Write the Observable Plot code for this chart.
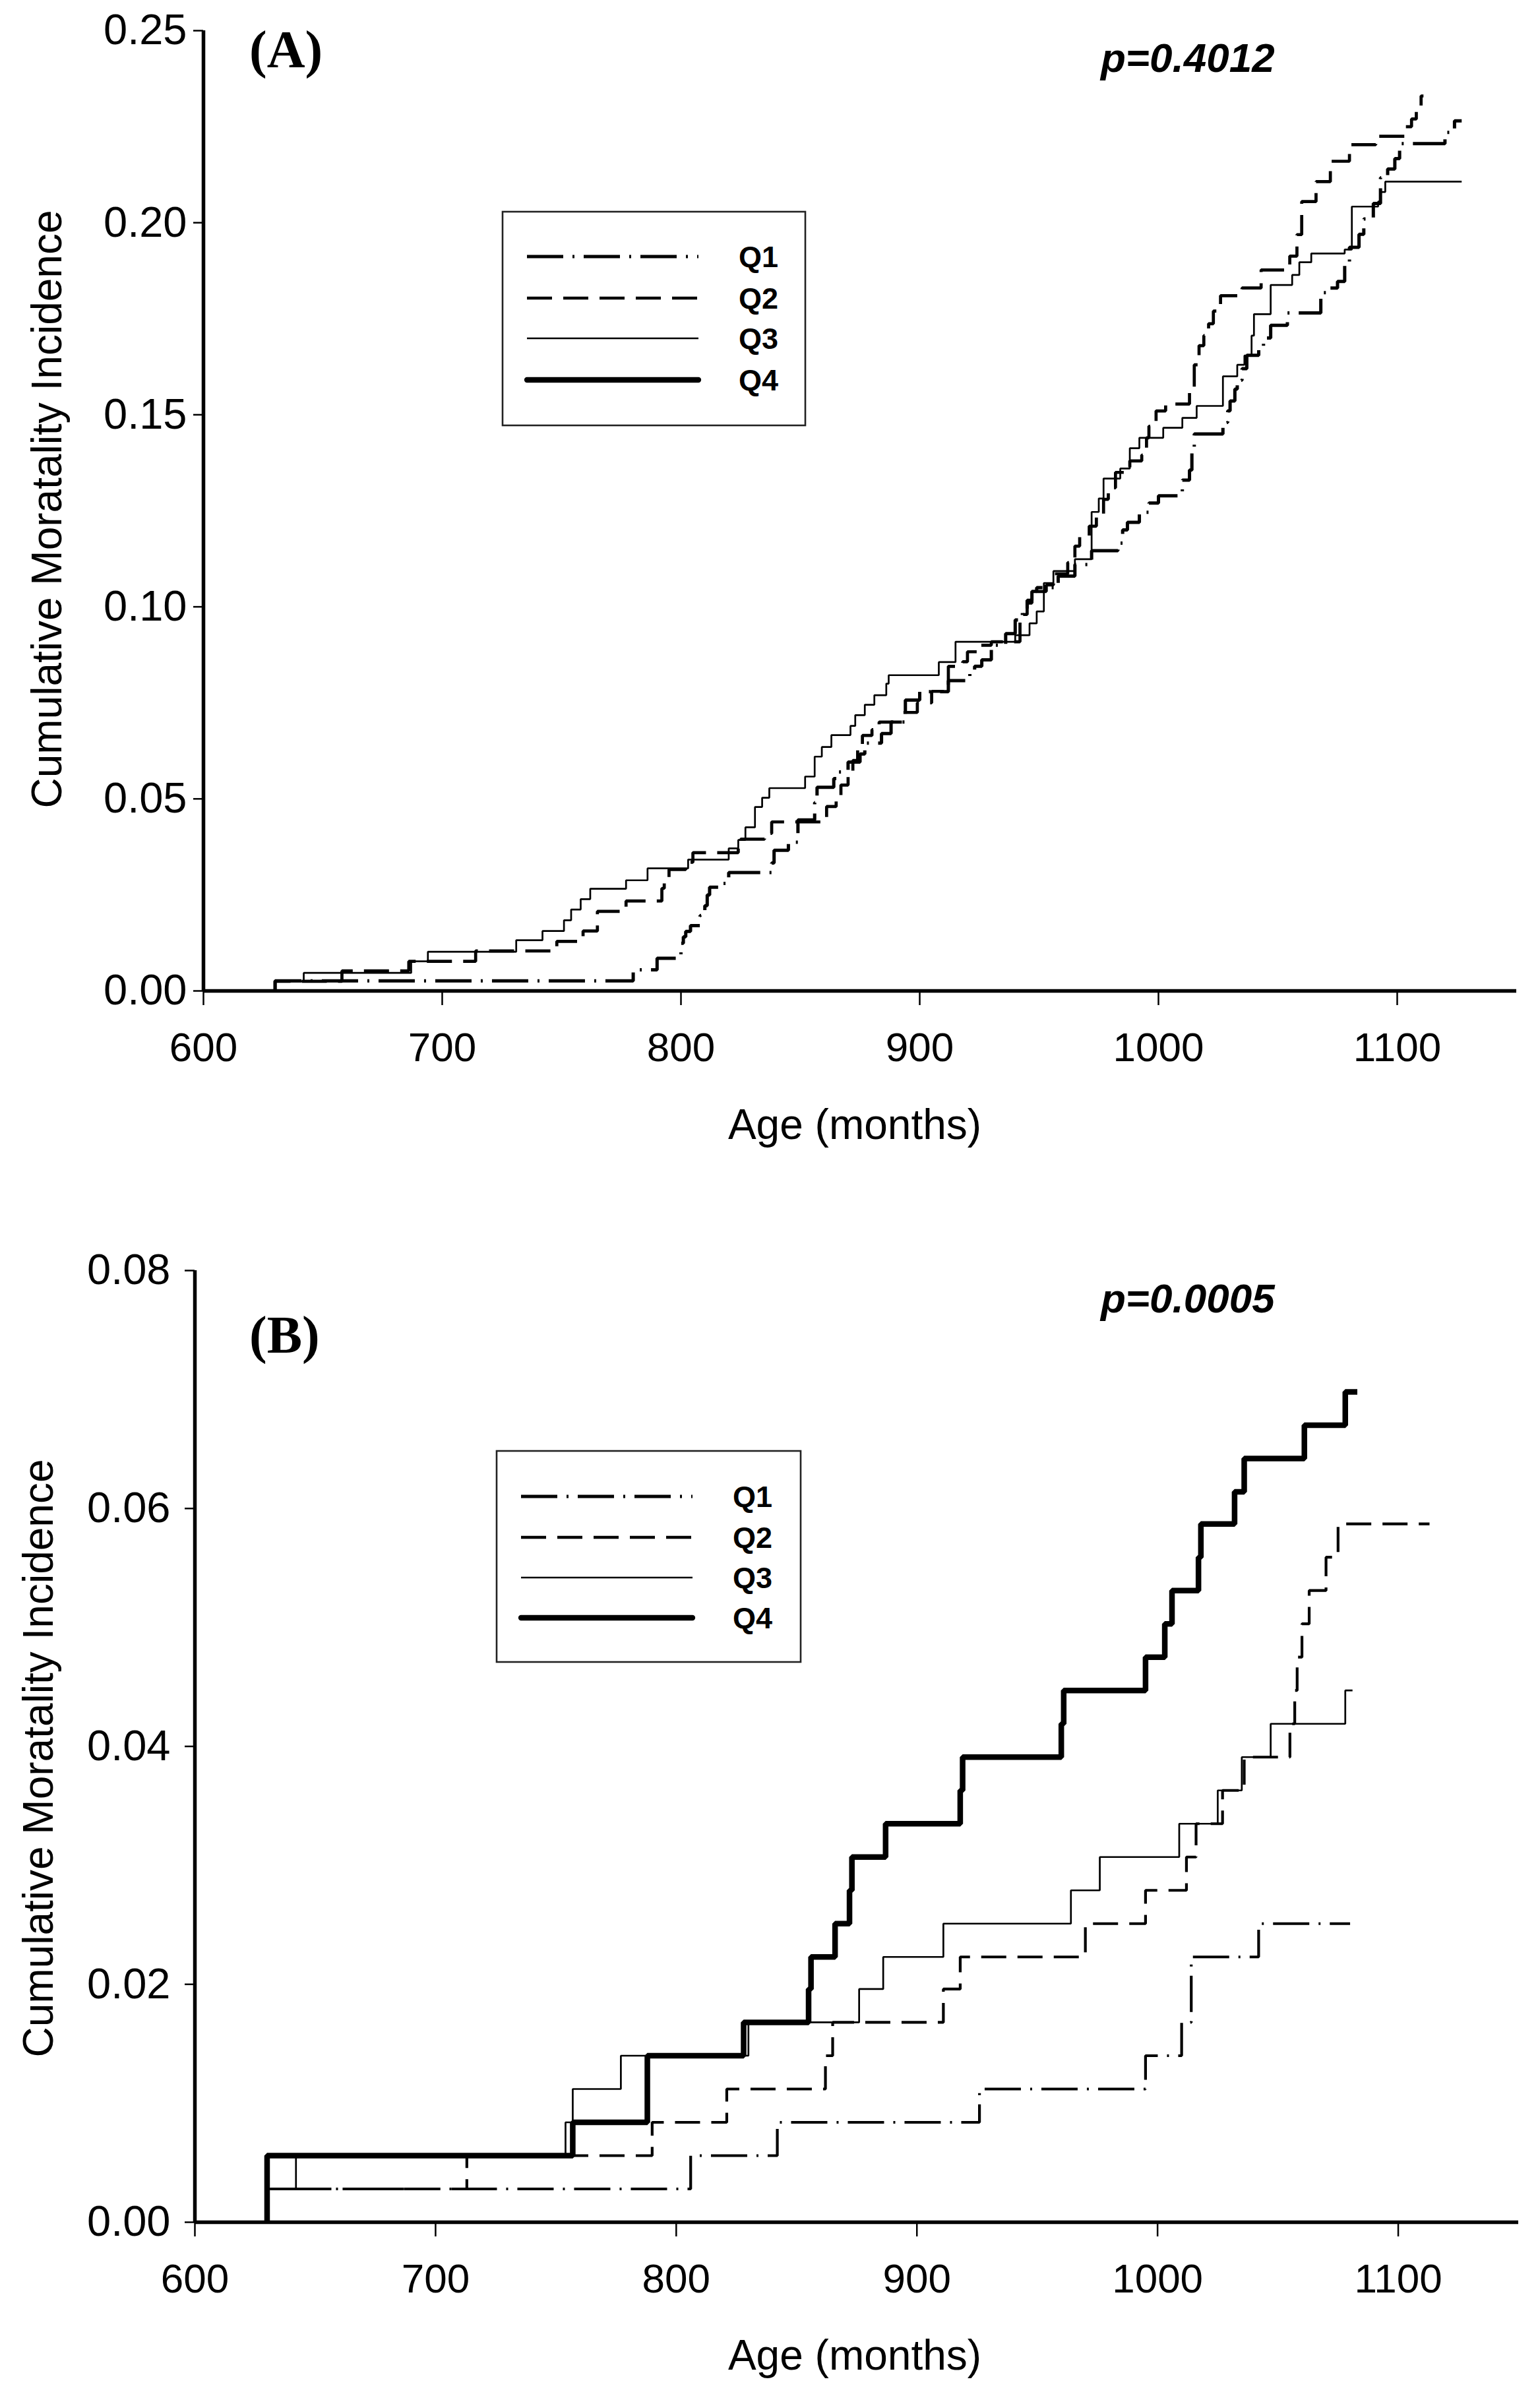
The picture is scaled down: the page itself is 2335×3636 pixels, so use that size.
<!DOCTYPE html>
<html>
<head>
<meta charset="utf-8">
<script src="https://cdn.jsdelivr.net/npm/d3@7"></script>
<script src="https://cdn.jsdelivr.net/npm/@observablehq/plot@0.6"></script>
<style>
html, body { margin: 0; padding: 0; background: #fff; }
#chart { width: 2335px; }
#chart svg { display: block; }
</style>
</head>
<body>
<div id="chart"></div>
<script>
// ---------- data ----------
const xTicks = [600, 700, 800, 900, 1000, 1100];
const aYTicks = [0, 0.05, 0.10, 0.15, 0.20, 0.25];
const bYTicks = [0, 0.02, 0.04, 0.06, 0.08];
const seriesNames = ["Q1", "Q2", "Q3", "Q4"];
const panelLabels = ["(A)", "(B)"];
const pValues = ["p=0.4012", "p=0.0005"];
const xTitle = "Age (months)";
const yTitle = "Cumulative Moratality Incidence";

// Panel A: [age in months, cumulative incidence]
const aQ1 = [[630,0],[630,0.0026],[780,0.0055],[790,0.0085],[800,0.0124],[801,0.0141],[802,0.0155],[804,0.017],[808,0.0196],[810,0.0222],[811,0.025],[812,0.027],[816,0.028],[820,0.0308],[838,0.0333],[839,0.0366],[845,0.0387],[849,0.0445],[856,0.049],[857,0.053],[864,0.0553],[866,0.057],[870,0.0596],[875,0.0617],[877,0.0645],[884,0.067],[888,0.07],[894,0.0757],[900,0.0779],[912,0.0808],[921,0.083],[923,0.0845],[926,0.0862],[930,0.09],[936,0.093],[940,0.0966],[943,0.099],[945,0.1017],[947,0.104],[949,0.105],[958,0.108],[965,0.111],[972,0.1146],[983,0.1166],[985,0.12],[987,0.122],[992,0.1246],[996,0.127],[1000,0.1289],[1008,0.130],[1010,0.133],[1013,0.1356],[1014,0.1407],[1015,0.145],[1027,0.148],[1029,0.151],[1030,0.1536],[1032,0.1567],[1033,0.159],[1035,0.162],[1037,0.1655],[1042,0.1676],[1044,0.170],[1047,0.1733],[1054,0.1765],[1068,0.1818],[1072,0.183],[1075,0.1847],[1078,0.1897],[1080,0.1936],[1084,0.197],[1086,0.201],[1090,0.205],[1093,0.2117],[1096,0.214],[1099,0.2167],[1101,0.2206],[1120,0.2235],[1124,0.2265],[1127,0.2265]];
const aQ2 = [[630,0],[630,0.0025],[658,0.0052],[686,0.0077],[714,0.0104],[748,0.0129],[759,0.0156],[765,0.0207],[777,0.0234],[792,0.0267],[793,0.0284],[795,0.0316],[802,0.0335],[805,0.036],[824,0.0387],[825,0.0395],[835,0.041],[838,0.044],[861,0.048],[865,0.050],[867,0.0536],[870,0.057],[872,0.06],[874,0.063],[876,0.0665],[880,0.068],[883,0.07],[893,0.0725],[899,0.075],[905,0.078],[912,0.0845],[918,0.0857],[920,0.0883],[925,0.09],[930,0.0909],[942,0.098],[945,0.101],[947,0.104],[953,0.1057],[956,0.1086],[962,0.1115],[965,0.1158],[967,0.1184],[971,0.121],[974,0.124],[977,0.128],[979,0.131],[982,0.135],[988,0.138],[993,0.1395],[995,0.144],[996,0.147],[999,0.151],[1003,0.1528],[1013,0.157],[1015,0.163],[1017,0.168],[1019,0.1706],[1021,0.1737],[1023,0.177],[1026,0.181],[1035,0.183],[1043,0.1877],[1055,0.1913],[1058,0.1969],[1060,0.2055],[1066,0.2107],[1072,0.216],[1080,0.2203],[1091,0.2225],[1103,0.225],[1106,0.227],[1108,0.229],[1110,0.233],[1111,0.233]];
const aQ3 = [[630,0],[630,0.0025],[642,0.0047],[687,0.0077],[694,0.0102],[731,0.0132],[742,0.0156],[751,0.0184],[754,0.0212],[758,0.0239],[762,0.0266],[777,0.0288],[786,0.0319],[803,0.0342],[820,0.0371],[824,0.0393],[827,0.0426],[831,0.0479],[834,0.0503],[837,0.0528],[852,0.0558],[856,0.061],[859,0.0635],[863,0.0666],[871,0.069],[873,0.0718],[877,0.0745],[881,0.077],[886,0.080],[887,0.0822],[908,0.0856],[915,0.0909],[940,0.0926],[946,0.0957],[949,0.0988],[952,0.1062],[956,0.1093],[965,0.1124],[972,0.1247],[975,0.1282],[977,0.1334],[984,0.136],[988,0.1413],[992,0.144],[1002,0.1466],[1010,0.1492],[1016,0.1523],[1027,0.160],[1033,0.163],[1036,0.1654],[1039,0.1706],[1040,0.1762],[1047,0.1838],[1056,0.1864],[1059,0.1897],[1064,0.192],[1078,0.193],[1081,0.2042],[1092,0.2055],[1093,0.208],[1095,0.2107],[1127,0.2107]];

// Panel B
const bQ1 = [[630,0],[630,0.0028],[806,0.0056],[842,0.0084],[926,0.0112],[995,0.014],[1010,0.0168],[1014,0.0223],[1042,0.0251],[1080,0.0251]];
const bQ2 = [[630,0],[630,0.0028],[713,0.0056],[790,0.0084],[821,0.0112],[862,0.014],[865,0.0168],[911,0.0196],[918,0.0223],[970,0.0251],[995,0.0279],[1012,0.0307],[1016,0.0335],[1027,0.0363],[1036,0.0391],[1055,0.0419],[1057,0.0447],[1058,0.0475],[1060,0.0503],[1063,0.0531],[1070,0.0559],[1075,0.0587],[1113,0.0587]];
const bQ3 = [[630,0],[630,0.0028],[642,0.0056],[754,0.0084],[757,0.0112],[777,0.014],[830,0.0168],[876,0.0196],[886,0.0223],[911,0.0251],[964,0.0279],[976,0.0307],[1009,0.0335],[1025,0.0363],[1035,0.0391],[1047,0.0419],[1078,0.0447],[1081,0.0447]];
const bQ4 = [[630,0],[630,0.0056],[757,0.0084],[788,0.014],[828,0.0168],[855,0.0196],[856,0.0223],[866,0.0251],[872,0.0279],[873,0.0307],[887,0.0335],[918,0.0363],[919,0.0391],[960,0.0419],[961,0.0447],[995,0.0475],[1003,0.0503],[1006,0.0531],[1017,0.0559],[1018,0.0587],[1032,0.0614],[1036,0.0642],[1061,0.067],[1078,0.0698],[1083,0.0698]];

// ---------- styles ----------
const SANS = "'Liberation Sans', Arial, Helvetica, sans-serif";
const SERIF = "'Liberation Serif', 'Times New Roman', serif";
const lineStyle = {
  Q1: {dash: "55,14,3,14", width: 5},
  Q2: {dash: "38,17", width: 4.7},
  Q3: {dash: null, width: 2.7},
  Q4: {dash: null, width: 8.3}
};

function makePanel(cfg) {
  const lineMarks = cfg.series.map(([name, data, w]) => Plot.line(data, {
    x: d => d[0], y: d => d[1], curve: "step-after",
    stroke: "#000", strokeWidth: w ?? lineStyle[name].width,
    strokeDasharray: lineStyle[name].dash || undefined,
    strokeLinejoin: "miter", strokeLinecap: "butt"
  }));
  const chart = Plot.plot({
    width: 2335, height: 1818,
    marginLeft: cfg.ml, marginRight: cfg.mr, marginTop: cfg.mt, marginBottom: cfg.mb,
    x: {domain: [600, 1150]},
    y: {domain: cfg.yDomain},
    style: {fontFamily: SANS, fontSize: "62px", background: "#fff", color: "#000", overflow: "visible"},
    marks: [
      Plot.axisX({ticks: xTicks, tickFormat: d => String(d), tickSize: 22, tickPadding: cfg.padX, strokeWidth: 2.5, fontSize: 62, label: null}),
      Plot.axisY({ticks: cfg.yTicks, tickFormat: d3.format(".2f"), tickSize: 15, tickPadding: cfg.padY, strokeWidth: 2.5, fontSize: 65, label: null}),
      ...lineMarks,
      Plot.ruleY([0], {stroke: "#000", strokeWidth: 5.5}),
      Plot.ruleX([600], {stroke: "#000", strokeWidth: 5.5})
    ]
  });
  const svg = d3.select(chart);
  const txt = () => svg.append("text").attr("fill", "#000").attr("text-anchor", "start");
  // axis titles
  txt().attr("transform", `translate(${cfg.yTitleX},${cfg.yTitleY}) rotate(-90)`)
    .attr("text-anchor", "middle").attr("font-family", SANS).attr("font-size", 64).text(yTitle);
  txt().attr("x", cfg.xTitleX).attr("y", cfg.xTitleY)
    .attr("text-anchor", "middle").attr("font-family", SANS).attr("font-size", 64).text(xTitle);
  // panel label
  txt().attr("x", 378).attr("y", cfg.labelY)
    .attr("font-family", SERIF).attr("font-weight", "bold").attr("font-size", 80).text(cfg.label);
  // p value
  txt().attr("x", 1669).attr("y", cfg.pY)
    .attr("font-family", SANS).attr("font-weight", "bold").attr("font-style", "italic").attr("font-size", 62).text(cfg.p);
  // legend
  const L = cfg.legend;
  const g = svg.append("g");
  g.append("rect").attr("x", L.x).attr("y", L.y).attr("width", L.w).attr("height", L.h)
    .attr("fill", "#fff").attr("stroke", "#222").attr("stroke-width", 2.6);
  seriesNames.forEach((name, i) => {
    const yy = L.y + L.rows[i];
    g.append("line").attr("x1", L.x + 37).attr("x2", L.x + 297).attr("y1", yy).attr("y2", yy)
      .attr("stroke", "#000").attr("stroke-width", lineStyle[name].width)
      .attr("stroke-dasharray", lineStyle[name].dash || null)
      .attr("stroke-linecap", name === "Q4" ? "round" : "butt");
    g.append("text").attr("x", L.x + 358).attr("y", yy).attr("dy", "0.36em").attr("text-anchor", "start")
      .attr("font-family", SANS).attr("font-weight", "bold").attr("font-size", 45).attr("fill", "#000").text(name);
  });
  return chart;
}

const root = document.getElementById("chart");
root.appendChild(makePanel({
  series: [["Q1", aQ1], ["Q2", aQ2], ["Q3", aQ3]],
  yDomain: [0, 0.25], yTicks: aYTicks,
  ml: 308, mr: 36, mt: 46, mb: 316, padX: 40, padY: 10,
  yTitleX: 93, yTitleY: 772, xTitleX: 1296, xTitleY: 1727,
  label: panelLabels[0], labelY: 102, p: pValues[0], pY: 109,
  legend: {x: 762, y: 321, w: 459, h: 324, rows: [68, 131, 192, 255]}
}));
root.appendChild(makePanel({
  series: [["Q1", bQ1, 4.2], ["Q2", bQ2, 4.2], ["Q3", bQ3, 2.7], ["Q4", bQ4, 8.5]],
  yDomain: [0, 0.08], yTicks: bYTicks,
  ml: 295, mr: 33, mt: 108, mb: 267, padX: 40, padY: 22,
  yTitleX: 80, yTitleY: 848, xTitleX: 1296, xTitleY: 1775,
  label: panelLabels[1], labelY: 233, p: pValues[1], pY: 172,
  legend: {x: 753, y: 382, w: 461, h: 320, rows: [69, 131, 192, 253]}
}));
</script>
</body>
</html>
